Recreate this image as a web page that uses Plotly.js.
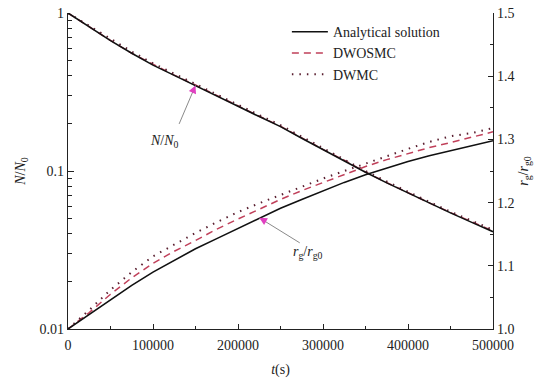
<!DOCTYPE html>
<html>
<head>
<meta charset="utf-8">
<script src="https://cdn.plot.ly/plotly-3.0.1.min.js"></script>
<style>
  html, body { margin: 0; padding: 0; background: #fff; }
  #chart { width: 543px; height: 381px; }
</style>
</head>
<body>
<div id="chart"></div>
<script>
// Time (s)
const time = [0, 25000, 50000, 75000, 100000, 125000, 150000, 175000, 200000, 225000,
  250000, 275000, 300000, 325000, 350000, 375000, 400000, 425000, 450000, 475000, 500000];

// Normalised particle number N/N0
const nAnalytical = [1.0, 0.813, 0.668, 0.556, 0.468, 0.403, 0.348, 0.299, 0.257, 0.221,
  0.191, 0.161, 0.136, 0.116, 0.0982, 0.0841, 0.0724, 0.0627, 0.0543, 0.0473, 0.0413];
const nDWOSMC = [1.0, 0.815, 0.671, 0.556, 0.471, 0.404, 0.350, 0.300, 0.259, 0.222,
  0.192, 0.162, 0.137, 0.117, 0.0985, 0.0845, 0.0727, 0.0629, 0.0546, 0.0476, 0.0418];
const nDWMC = [1.0, 0.83, 0.685, 0.57, 0.48, 0.412, 0.356, 0.306, 0.263, 0.226,
  0.195, 0.165, 0.139, 0.119, 0.100, 0.0858, 0.0738, 0.0638, 0.0553, 0.0482, 0.0424];

// Normalised gyration radius rg/rg0
const rAnalytical = [1.0, 1.023, 1.046, 1.069, 1.090, 1.109, 1.127, 1.143, 1.159, 1.176,
  1.191, 1.205, 1.219, 1.232, 1.244, 1.255, 1.265, 1.274, 1.282, 1.290, 1.298];
const rDWOSMC = [1.0, 1.026, 1.055, 1.081, 1.104, 1.123, 1.140, 1.158, 1.174, 1.190,
  1.205, 1.219, 1.232, 1.245, 1.257, 1.268, 1.278, 1.287, 1.295, 1.304, 1.312];
const rDWMC = [1.0, 1.030, 1.062, 1.090, 1.115, 1.134, 1.152, 1.169, 1.185, 1.199,
  1.212, 1.226, 1.238, 1.250, 1.262, 1.274, 1.285, 1.296, 1.305, 1.310, 1.318];

const seriesNames = ['Analytical solution', 'DWOSMC', 'DWMC'];
const xTicks = [0, 100000, 200000, 300000, 400000, 500000];
const xTickText = ['0', '100000', '200000', '300000', '400000', '500000'];
const nTicks = [0.01, 0.1, 1];
const nTickText = ['0.01', '0.1', '1'];
const nMinorTicks = [0.02, 0.03, 0.04, 0.05, 0.06, 0.07, 0.08, 0.09,
  0.2, 0.3, 0.4, 0.5, 0.6, 0.7, 0.8, 0.9];

const FONT = 'Liberation Serif, Times New Roman, serif';
const styles = [
  { color: '#111111', width: 1.6, dash: 'solid' },
  { color: '#c0405a', width: 1.5, dash: '7px,5px' },
  { color: '#5a1f30', width: 2, dash: '1.5px,6px' }
];

const nSets = [nAnalytical, nDWOSMC, nDWMC];
const rSets = [rAnalytical, rDWOSMC, rDWMC];
const traces = [];
// analytical drawn last so it sits on top
[1, 2, 0].forEach(i => {
  traces.push({
    x: time, y: nSets[i], type: 'scatter', mode: 'lines', yaxis: 'y',
    name: seriesNames[i], legendgroup: seriesNames[i], legendrank: i + 1,
    line: styles[i], showlegend: true
  });
  traces.push({
    x: time, y: rSets[i], type: 'scatter', mode: 'lines', yaxis: 'y2',
    name: seriesNames[i], legendgroup: seriesNames[i],
    line: styles[i], showlegend: false
  });
});

// arrow tips on the analytical curves
const nTipIdx = 6, rTipIdx = 9;
const nTip = { x: time[nTipIdx], y: Math.log10(nAnalytical[nTipIdx]) };
const rTip = { x: time[rTipIdx], y: rAnalytical[rTipIdx] };

const annotations = [
  // N/N0 label with gray shaft and magenta head
  { x: nTip.x, y: nTip.y, xref: 'x', yref: 'y', ax: -17, ay: 40, showarrow: true,
    arrowhead: 0, arrowwidth: 1, arrowcolor: '#8a8a8a', text: '' },
  { x: nTip.x, y: nTip.y, xref: 'x', yref: 'y', ax: -3, ay: 7, showarrow: true,
    arrowhead: 2, arrowsize: 1.2, arrowwidth: 1.3, arrowcolor: '#e040c0', text: '' },
  { x: nTip.x, y: nTip.y, xref: 'x', yref: 'y', xshift: -31, yshift: -56, showarrow: false,
    text: '<i>N</i>/<i>N</i><sub>0</sub>', font: { family: FONT, size: 14, color: '#222' } },
  // rg/rg0 label with gray shaft and magenta head
  { x: rTip.x, y: rTip.y, xref: 'x', yref: 'y2', ax: 42, ay: 26, showarrow: true,
    arrowhead: 0, arrowwidth: 1, arrowcolor: '#8a8a8a', text: '' },
  { x: rTip.x, y: rTip.y, xref: 'x', yref: 'y2', ax: 7, ay: 4, showarrow: true,
    arrowhead: 2, arrowsize: 1.2, arrowwidth: 1.3, arrowcolor: '#e040c0', text: '' },
  { x: rTip.x, y: rTip.y, xref: 'x', yref: 'y2', xshift: 49, yshift: -35, showarrow: false,
    text: '<i>r</i><sub>g</sub>/<i>r</i><sub>g0</sub>', font: { family: FONT, size: 14, color: '#222' } }
];

const layout = {
  width: 543, height: 381,
  margin: { l: 68, r: 50, t: 13, b: 52 },
  paper_bgcolor: '#ffffff', plot_bgcolor: '#ffffff',
  font: { family: FONT, size: 14, color: '#222' },
  showlegend: true,
  legend: {
    x: 0.515, y: 0.99, xanchor: 'left', yanchor: 'top',
    bgcolor: 'rgba(0,0,0,0)', borderwidth: 0,
    font: { family: FONT, size: 14, color: '#222' },
    tracegroupgap: 0, itemwidth: 36, traceorder: 'normal'
  },
  xaxis: {
    range: [0, 500000], tickvals: xTicks, ticktext: xTickText,
    ticks: 'inside', ticklen: 5, tickwidth: 1, tickcolor: '#222',
    ticklabelstandoff: 3,
    showline: true, linecolor: '#222', linewidth: 1.3, mirror: false,
    showgrid: false, zeroline: false,
    minor: { ticks: 'inside', ticklen: 3, dtick: 50000, tickcolor: '#222', showgrid: false },
    title: { text: '<i>t</i>(s)', font: { family: FONT, size: 14 }, standoff: 12 }
  },
  yaxis: {
    type: 'log', range: [-2, 0], tickvals: nTicks, ticktext: nTickText,
    ticks: 'inside', ticklen: 6, tickwidth: 1, tickcolor: '#222',
    showline: true, linecolor: '#222', linewidth: 1.3,
    showgrid: false, zeroline: false,
    minor: { ticks: 'inside', ticklen: 4, tickvals: nMinorTicks, tickcolor: '#222', showgrid: false },
    title: { text: '<i>N</i>/<i>N</i><sub>0</sub>', font: { family: FONT, size: 14 }, standoff: 10 }
  },
  yaxis2: {
    overlaying: 'y', side: 'right', range: [1.0, 1.5], dtick: 0.1, tickformat: '.1f',
    ticks: 'inside', ticklen: 5, tickwidth: 1, tickcolor: '#222',
    showline: true, linecolor: '#222', linewidth: 1.3,
    showgrid: false, zeroline: false,
    minor: { ticks: 'inside', ticklen: 3, dtick: 0.05, tickcolor: '#222', showgrid: false },
    title: { text: '<i>r</i><sub>g</sub>/<i>r</i><sub>g0</sub>', font: { family: FONT, size: 14 }, standoff: 4 }
  },
  annotations: annotations
};

Plotly.newPlot('chart', traces, layout, { displayModeBar: false, staticPlot: true });
</script>
</body>
</html>
